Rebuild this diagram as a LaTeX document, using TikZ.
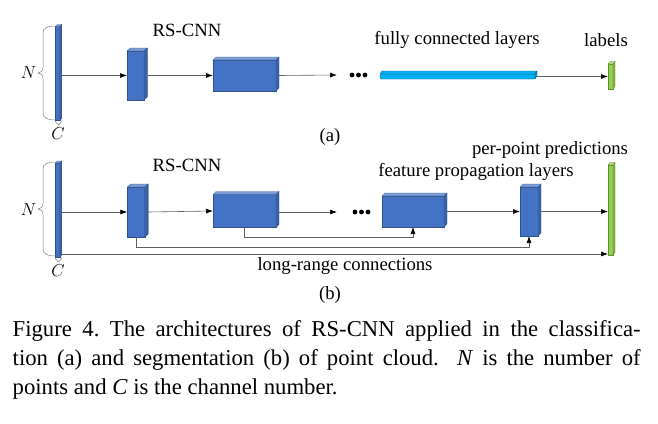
\documentclass[tikz,border=0pt]{standalone}
\usepackage{fontspec}
\setmainfont{Liberation Serif}
\usetikzlibrary{arrows.meta,calc}
\definecolor{bface}{RGB}{68,114,196}
\definecolor{bedge}{RGB}{47,82,143}
\definecolor{cface}{RGB}{0,176,240}
\definecolor{cedge}{RGB}{25,90,140}
\definecolor{gface}{RGB}{146,208,80}
\definecolor{gedge}{RGB}{95,140,45}
\definecolor{lin}{RGB}{95,95,95}
\newcommand\mydepth[5]{% node, dx, dy, colour base, top tint
  \filldraw[draw=#4edge, fill=#4face!#5!white, line width=0.3pt]
    (#1.north west) -- ++(#2,-#3) -- ([shift={(#2,-#3)}]#1.north east) -- (#1.north east) -- cycle;
  \filldraw[draw=#4edge, fill=#4face!85!black, line width=0.3pt]
    (#1.north east) -- ([shift={(#2,-#3)}]#1.north east) -- ([shift={(#2,-#3)}]#1.south east) -- (#1.south east) -- cycle;}
\newcommand\mybrace[4]{% x-end, y-top, y-bottom, x-straight
  \draw[lin!80, line width=0.5pt] (#1,#2) .. controls (#4+4,#2) and (#4,#2+2) .. (#4,#2+7)
    -- (#4,{(#2+#3)/2-6}) .. controls (#4,{(#2+#3)/2-2}) and (#4-2,{(#2+#3)/2}) .. (#4-5,{(#2+#3)/2})
    .. controls (#4-2,{(#2+#3)/2}) and (#4,{(#2+#3)/2+2}) .. (#4,{(#2+#3)/2+6})
    -- (#4,#3-7) .. controls (#4,#3-2) and (#4+4,#3) .. (#1,#3);}
\newcommand\smallbrace[2]{% x-left, y
  \draw[lin!80, line width=0.5pt] (#1,#2) .. controls (#1+0.3,#2+2.5) and (#1+3,#2+2) .. (#1+3.5,#2+4)
    .. controls (#1+4,#2+2) and (#1+6.7,#2+2.5) .. (#1+7,#2);}
\tikzset{
  box/.style n args={3}{draw=#1edge, fill=#1face, inner sep=0pt, outer sep=0pt,
    minimum width=#2, minimum height=#3, line width=0.3pt},
  conn/.style={draw=lin, line width=0.6pt, -{Latex[length=7pt,width=5pt,color=black]}},
  lbl/.style={font=\fontsize{18.7}{21}\selectfont, inner sep=0pt},
  sym/.style={font=\fontsize{18}{20}\selectfont, inner sep=0pt},
  dot/.style={circle, fill=black, inner sep=0pt, minimum size=4.8pt}
}
\begin{document}
\begin{tikzpicture}[x=1pt, y=-1pt]
\useasboundingbox (0,0) rectangle (658,423);
% ---------------- (a) ----------------
\node[box={b}{4.5pt}{94pt}] (ina) at (57.5,73.5) {};
\mydepth{ina}{2}{2}{b}{70}
\node[box={b}{17pt}{49pt}] (a1) at (135.5,75.5) {};
\mydepth{a1}{3.5}{3}{b}{70}
\node[box={b}{63pt}{31pt}] (a2) at (244.5,75.5) {};
\mydepth{a2}{3}{3}{b}{70}
\node[dot] (ad1) at (352,75) {};
\node[dot] (ad2) at (358.5,75) {};
\node[dot] (ad3) at (365,75) {};
\coordinate (adin) at (337,75);
\node[box={c}{155pt}{5pt}, rounded corners=1pt] (fc) at (457.5,76.5) {};
\mydepth{fc}{2}{3}{c}{100}
\node[box={g}{5pt}{25pt}] (laba) at (610.5,76.5) {};
\mydepth{laba}{2}{2.5}{g}{70}
\draw[conn] ([xshift=2pt]ina.east |- a1.west) -- (a1.west);
\draw[conn] ([xshift=3.5pt]a1.east) -- (a2.west);
\draw[conn] ([xshift=3pt]a2.east) -- (adin);
\draw[conn] ([xshift=2pt]fc.east) -- (laba.west);
\mybrace{56}{26}{120}{43}
\smallbrace{55}{121}
\node[sym] (na) at (28.5,73) {$N$};
\node[sym] (ca) at (58,134) {$C$};
\node[lbl] (rsa) at (187,30) {RS-CNN};
\node[lbl] (fcl) at (457,40) {fully connected layers};
\node[lbl] (labl) at (606,40) {labels};
\node[lbl] (capa) at (330,137) {(a)};
% ---------------- (b) ----------------
\node[box={b}{4.5pt}{94pt}] (inb) at (57.5,210) {};
\mydepth{inb}{2}{2}{b}{70}
\node[box={b}{17.5pt}{50pt}] (b1) at (136,212) {};
\mydepth{b1}{3.5}{3}{b}{70}
\node[box={b}{63pt}{33pt}] (b2) at (244.5,211) {};
\mydepth{b2}{3}{3}{b}{70}
\node[dot] (bd1) at (355,212) {};
\node[dot] (bd2) at (361.5,212) {};
\node[dot] (bd3) at (368,212) {};
\coordinate (bdin) at (337,212);
\node[box={b}{62pt}{31pt}] (b3) at (413,211.5) {};
\mydepth{b3}{3}{3}{b}{70}
\node[box={b}{18pt}{49pt}] (b4) at (529,211.5) {};
\mydepth{b4}{3}{3}{b}{70}
\node[box={g}{5pt}{90pt}] (pred) at (610.5,210) {};
\mydepth{pred}{2}{2.5}{g}{70}
\coordinate (lr) at (62,254);
\draw[conn] ([xshift=2pt]inb.east |- b1.west) -- (b1.west);
\draw[conn] ([xshift=3.5pt]b1.east) -- (b2.west);
\draw[conn] ([xshift=3pt]b2.east |- bdin) -- (bdin);
\draw[conn] ([xshift=3pt]b3.east |- b4.west) -- (b4.west);
\draw[conn] ([xshift=3pt]b4.east |- b4.west) -- (b4.west -| pred.west);
\draw[conn] (b2.south) -- ++(0,10) -| (b3.south);
\draw[conn] (b1.south) -- ++(0,10) -| (b4.south);
\draw[conn] (lr) -- (lr -| pred.west);
\mybrace{56}{162}{256}{43}
\smallbrace{55}{258}
\node[sym] (nb) at (28.5,210) {$N$};
\node[sym] (cb) at (58,271) {$C$};
\node[lbl] (rsb) at (187,165) {RS-CNN};
\node[lbl] (fpl) at (476,172) {feature propagation layers};
\node[lbl] (ppl) at (550,150) {per-point predictions};
\node[lbl] (lrc) at (345,266) {long-range connections};
\node[lbl] (capb) at (330,295) {(b)};
% ---------------- caption ----------------
\node[anchor=base west, text width=628pt, inner sep=0pt, align=justify,
      font=\fontsize{22.7}{28.7}\selectfont\frenchspacing] (cap) at (12.5,336.7)
  {Figure 4. The architectures of RS-CNN applied in the classifica-\linebreak
   tion (a) and segmentation (b) of point cloud.\ \ \textit{N} is the number of\linebreak
   points and \textit{C} is the channel number.};
\end{tikzpicture}
\end{document}
